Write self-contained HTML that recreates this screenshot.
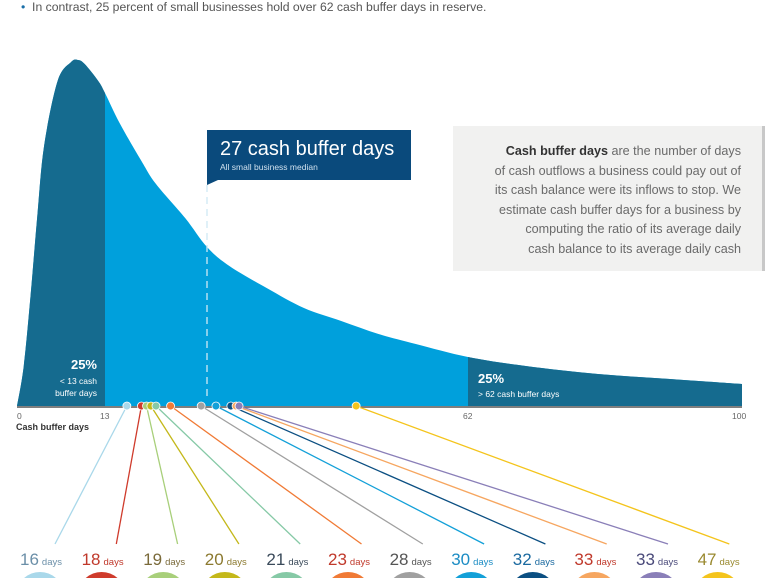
<!DOCTYPE html>
<html><head><meta charset="utf-8">
<style>
body{margin:0;width:770px;height:578px;overflow:hidden;background:#fff;font-family:"Liberation Sans",sans-serif;}
#wrap{position:relative;width:770px;height:578px;overflow:hidden;}
.abs{position:absolute;}
</style></head>
<body>
<div id="wrap">
<div class="abs" style="left:21px;top:0px;font-size:12.2px;color:#555;white-space:nowrap;"><span style="color:#1a6fa8">•</span>&nbsp; In contrast, 25 percent of small businesses hold over 62 cash buffer days in reserve.</div>
<div class="abs" style="left:453px;top:126px;width:288px;height:145px;background:#f1f1f0;border-right:3px solid #c8c8c8;padding:0 21px 0 0;text-align:right;font-size:12.6px;line-height:19.6px;color:#6a6a6a;white-space:nowrap;">
<div style="padding-top:16px"><b style="color:#333">Cash buffer days</b> are the number of days<br>of cash outflows a business could pay out of<br>its cash balance were its inflows to stop. We<br>estimate cash buffer days for a business by<br>computing the ratio of its average daily<br>cash balance to its average daily cash</div></div>
<svg id="chart" class="abs" style="left:0;top:0;overflow:hidden" width="770" height="578"></svg>
</div>
<script>
const densityDays=[0,1,2,3,4,6,8,9,10,12,13,15,18,20,24,27,30,35,40,45,50,55,62,70,80,90,100];
const densityVals=[0,40,110,190,260,325,344,346,342,325,313,283,245,222,188,159,140,118,98,85,72,62,49,40,32,27,22];
const peerLabels=["16","18","19","20","21","23","28","30","32","33","33","47"];
const peerDays=[16,18,18.7,19.3,20,22,26.2,28.2,30.2,30.9,31.3,47];
const peerColors=["#a9d8ea","#cf3b2c","#a8cf7a","#c4b81a","#86c9a6","#f07a35","#a0a0a0","#13a0d8","#0b4f82","#f6a660","#8a7fb8","#f4c41c"];
const peerTextColors=["#6b8fa8","#c0392b","#7a6a3a","#8c7a30","#3a4a5a","#c0392b","#555","#1b8cc4","#1b6aa0","#c0392b","#4a4a7a","#9a8a30"];
const axisTicks=[0,13,62,100];
const quartiles=[13,62];const median=27;
const axisDomain=[0,13,27,62,100];
const axisRange=[17,105,207,468,742];

const svg=document.getElementById('chart');const NS="http://www.w3.org/2000/svg";
const base=406;
function xs(d){for(let i=0;i<axisDomain.length-1;i++){if(d<=axisDomain[i+1]||i==axisDomain.length-2){const t=(d-axisDomain[i])/(axisDomain[i+1]-axisDomain[i]);return axisRange[i]+t*(axisRange[i+1]-axisRange[i]);}}}
const ys=v=>base-v;
function mk(t,a,p){const e=document.createElementNS(NS,t);for(const k in a)e.setAttribute(k,a[k]);(p||svg).appendChild(e);return e;}
const pts=densityDays.map((d,i)=>[xs(d),ys(densityVals[i])]);
function curve(p){let s="M"+p[0][0]+","+p[0][1];for(let i=0;i<p.length-1;i++){const a=p[i-1]||p[i],b=p[i],c=p[i+1],d=p[i+2]||c;s+=` C${b[0]+(c[0]-a[0])/6},${b[1]+(c[1]-a[1])/6} ${c[0]-(d[0]-b[0])/6},${c[1]-(d[1]-b[1])/6} ${c[0]},${c[1]}`;}return s;}
const area=curve(pts)+` L${xs(100)},${base} L${xs(0)},${base} Z`;
const defs=mk('defs',{});
const c1=mk('clipPath',{id:'cL'},defs);mk('rect',{x:0,y:0,width:xs(quartiles[0]),height:base},c1);
const c2=mk('clipPath',{id:'cR'},defs);mk('rect',{x:xs(quartiles[1]),y:0,width:770,height:base},c2);
let e=mk('path',{d:area,fill:'#00a0dc'});
e=mk('path',{d:area,fill:'#156b8f','clip-path':'url(#cL)'});
e=mk('path',{d:area,fill:'#156b8f','clip-path':'url(#cR)'});
e=mk('line',{x1:xs(median),x2:xs(median),y1:185,y2:400,stroke:'#cfe9f5','stroke-width':1.3,'stroke-dasharray':'7,5'});
e=mk('line',{x1:xs(0),x2:xs(100),y1:base+1,y2:base+1,stroke:'#555','stroke-width':1.5});
axisTicks.forEach(t=>{const tx=mk('text',{x:xs(t)+(t==100?-10:t==0?0:-5),y:419,'font-size':8.5,fill:'#666'});tx.textContent=t;});
e=mk('text',{x:16,y:430,'font-size':9,'font-weight':'bold',fill:'#333'});e.textContent='Cash buffer days';
e=mk('path',{d:'M207,130 H411 V180 H218 L207,185 Z',fill:'#0a4a7c'});
e=mk('text',{x:220,y:155,'font-size':20,fill:'#fff'});e.textContent='27 cash buffer days';
e=mk('text',{x:220,y:170,'font-size':8.5,fill:'#cfe0ee'});e.textContent='All small business median';
[[97,369,'25%',13,'bold'],[97,384,'< 13 cash',8.5,''],[97,396,'buffer days',8.5,'']].forEach(a=>{const t=mk('text',{x:a[0],y:a[1],'font-size':a[3],'font-weight':a[4]||'normal',fill:'#fff','text-anchor':'end'});t.textContent=a[2];});
[[478,383,'25%',13,'bold'],[478,397,'> 62 cash buffer days',8.5,'']].forEach(a=>{const t=mk('text',{x:a[0],y:a[1],'font-size':a[3],'font-weight':a[4]||'normal',fill:'#fff'});t.textContent=a[2];});
peerDays.forEach((d,i)=>{const cx=40+i*61.6;const lx=cx+15-i*0.3;
 const l=mk('line',{x1:xs(d),y1:base,x2:lx,y2:544,stroke:peerColors[i],'stroke-width':1.3});
 const c=mk('circle',{cx:xs(d),cy:base,r:4,fill:peerColors[i],stroke:'#fff','stroke-width':0.8});
 const t=mk('text',{x:cx-20,y:565,fill:peerTextColors[i],'font-size':17});
 t.textContent=peerLabels[i];const s=mk('tspan',{'font-size':9.5,dx:3},t);s.textContent='days';
 const b=mk('path',{d:`M${cx-15.9},578 A24,24 0 0 1 ${cx+15.9},578 Z`,fill:peerColors[i]});
});
</script>
</body></html>
